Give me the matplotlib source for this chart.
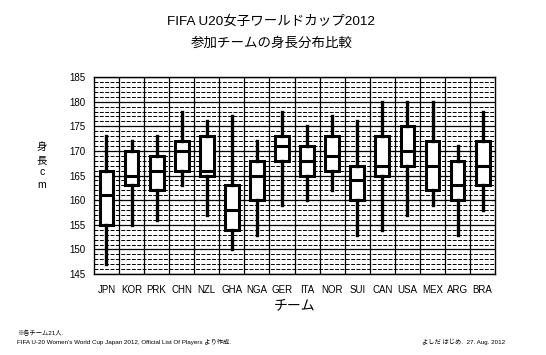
import matplotlib
matplotlib.use("Agg")
import matplotlib.pyplot as plt
from matplotlib.ticker import MultipleLocator

plt.rcParams['font.family'] = ['Liberation Sans', 'Noto Sans CJK JP', 'DejaVu Sans']

teams = ["JPN", "KOR", "PRK", "CHN", "NZL", "GHA", "NGA", "GER",
         "ITA", "NOR", "SUI", "CAN", "USA", "MEX", "ARG", "BRA"]
whisker_low = [147, 155, 156, 163, 157, 150, 153, 159, 160, 162, 153, 154, 157, 159, 153, 158]
q1 =          [155, 163, 162, 166, 165, 154, 160, 168, 165, 166, 160, 165, 167, 162, 160, 163]
median =      [161, 165, 166, 170, 166, 158, 165, 171, 168, 169, 164, 167, 170, 167, 163, 167]
q3 =          [166, 170, 169, 172, 173, 163, 168, 173, 171, 173, 167, 173, 175, 172, 168, 172]
whisker_high = [173, 172, 173, 178, 176, 177, 172, 178, 175, 177, 176, 180, 180, 180, 171, 178]

stats = []
for i, t in enumerate(teams):
    stats.append(dict(label=t, whislo=whisker_low[i], q1=q1[i], med=median[i],
                      q3=q3[i], whishi=whisker_high[i], fliers=[]))

fig = plt.figure(figsize=(5.46, 3.55), dpi=100)
ax = fig.add_axes([0.172, 0.228, 0.735, 0.555])

ax.set_ylim(145, 185)
ax.set_xlim(0.5, len(teams) + 0.5)
ax.yaxis.set_major_locator(MultipleLocator(5))
ax.yaxis.set_minor_locator(MultipleLocator(1))
ax.grid(which='minor', axis='y', color='black', lw=0.7, linestyle=(0, (4, 1.5)), zorder=0)
ax.grid(which='major', axis='y', color='black', lw=0.9, linestyle='-', zorder=0)
for b in range(len(teams) - 1):
    ax.axvline(b + 1.5, color='black', lw=0.9, zorder=0)

ax.bxp(stats, positions=list(range(1, len(teams) + 1)), widths=0.55,
       showcaps=False, showfliers=False, patch_artist=True,
       boxprops=dict(facecolor='white', edgecolor='black', linewidth=2.2),
       whiskerprops=dict(color='black', linewidth=2.4),
       medianprops=dict(color='black', linewidth=2.2), zorder=3)

ax.set_xticks(range(1, len(teams) + 1))
ax.set_xticklabels(teams)
ax.tick_params(axis='both', which='both', length=0, labelsize=7, pad=6)
ax.tick_params(axis='x', pad=8)
for s in ax.spines.values():
    s.set_linewidth(1.0)

fig.text(0.497, 1 - 22 / 355, "FIFA U20女子ワールドカップ2012", ha='center', va='center', fontsize=9.7)
fig.text(0.497, 1 - 43 / 355, "参加チームの身長分布比較", ha='center', va='center', fontsize=9.7)
fig.text(0.54, 1 - 305 / 355, "チーム", ha='center', va='center', fontsize=10)
fig.text(42 / 546, 1 - 166 / 355, "身\n長\nc\nm", ha='center', va='center', fontsize=7.5,
         linespacing=1.3)
fig.text(17 / 546, 1 - 333 / 355, "※各チーム21人.", ha='left', va='center', fontsize=4.5)
fig.text(17 / 546, 1 - 342 / 355,
         "FIFA U-20 Women's World Cup Japan 2012, Official List Of Players より作成.",
         ha='left', va='center', fontsize=4.5)
fig.text(505 / 546, 1 - 342 / 355, "よしだ はじめ.  27. Aug. 2012", ha='right', va='center', fontsize=4.5)

fig.savefig("out.png", dpi=100, facecolor='white')
